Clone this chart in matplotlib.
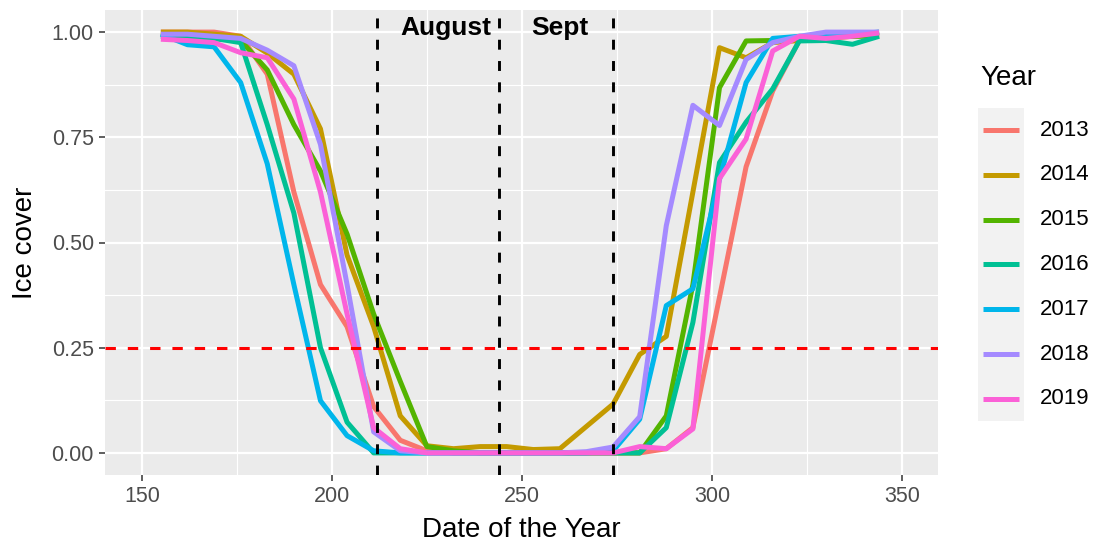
import numpy as np
import matplotlib.pyplot as plt
from matplotlib.lines import Line2D
from matplotlib.patches import Rectangle

plt.rcParams['font.family'] = ['Liberation Sans', 'DejaVu Sans']

# weekly sampling dates (day of year)
days = [155, 162, 169, 176, 183, 190, 197, 204, 211, 218, 225, 232, 239, 246,
        253, 260, 267, 274, 281, 288, 295, 302, 309, 316, 323, 330, 337, 344]

ice_2013 = [1.0, 1.0, 1.0, 0.99, 0.90, 0.62, 0.40, 0.30, 0.11, 0.03, 0.005, 0, 0, 0,
            0, 0, 0, 0, 0, 0.01, 0.06, 0.37, 0.68, 0.86, 0.98, 0.99, 0.99, 1.0]
ice_2014 = [1.0, 1.0, 0.995, 0.99, 0.95, 0.90, 0.77, 0.47, 0.30, 0.088, 0.017, 0.01, 0.015, 0.015,
            0.008, 0.01, 0.063, 0.116, 0.234, 0.277, 0.62, 0.963, 0.939, 0.975, 0.98, 0.985, 0.99, 0.995]
ice_2015 = [0.99, 0.99, 0.985, 0.98, 0.91, 0.78, 0.67, 0.52, 0.33, 0.17, 0.015, 0.005, 0, 0,
            0, 0, 0, 0, 0, 0.088, 0.40, 0.868, 0.979, 0.98, 0.985, 0.99, 0.99, 0.99]
ice_2016 = [0.99, 0.99, 0.985, 0.975, 0.78, 0.57, 0.25, 0.073, 0.0, 0, 0, 0, 0, 0,
            0, 0, 0, 0, 0, 0.06, 0.31, 0.69, 0.786, 0.865, 0.979, 0.98, 0.971, 0.99]
ice_2017 = [0.995, 0.97, 0.965, 0.88, 0.687, 0.40, 0.124, 0.041, 0.005, 0, 0, 0, 0, 0,
            0, 0, 0, 0.005, 0.08, 0.35, 0.39, 0.65, 0.88, 0.985, 0.99, 0.99, 0.995, 1.0]
ice_2018 = [0.995, 0.995, 0.99, 0.985, 0.957, 0.92, 0.733, 0.40, 0.05, 0.005, 0, 0, 0, 0,
            0, 0, 0.003, 0.014, 0.086, 0.54, 0.826, 0.778, 0.935, 0.975, 0.99, 1.0, 1.0, 1.0]
ice_2019 = [0.983, 0.98, 0.975, 0.951, 0.939, 0.841, 0.62, 0.33, 0.06, 0.01, 0, 0, 0, 0,
            0, 0, 0, 0, 0.015, 0.01, 0.057, 0.652, 0.746, 0.955, 0.99, 0.985, 0.99, 0.998]

years = ['2013', '2014', '2015', '2016', '2017', '2018', '2019']
series = [ice_2013, ice_2014, ice_2015, ice_2016, ice_2017, ice_2018, ice_2019]
colors = ['#F8766D', '#C49A00', '#53B400', '#00C094', '#00B6EB', '#A58AFF', '#FB61D7']

month_bounds = [212, 244, 274]
threshold = 0.25
month_labels = [(230, 'August'), (260, 'Sept')]

W, H = 1099, 546
fig = plt.figure(figsize=(W / 100, H / 100), dpi=100)
ax = fig.add_axes([105 / W, 1 - 475 / H, 833 / W, 465 / H])
ax.set_facecolor('#EBEBEB')
for s in ax.spines.values():
    s.set_visible(False)

ax.set_xlim(140.3, 359.5)
ax.set_ylim(-0.0525, 1.0525)
ax.set_xticks([150, 200, 250, 300, 350])
ax.set_xticks([175, 225, 275, 325], minor=True)
ax.set_yticks([0, 0.25, 0.5, 0.75, 1.0])
ax.set_yticklabels(['0.00', '0.25', '0.50', '0.75', '1.00'])
ax.set_yticks([0.125, 0.375, 0.625, 0.875], minor=True)
ax.grid(which='major', color='white', lw=1.6)
ax.grid(which='minor', color='white', lw=0.8)
ax.set_axisbelow(True)
ax.tick_params(which='major', length=4, width=1.1, color='#333333',
               labelsize=15.5, labelcolor='#4D4D4D', pad=4)
ax.tick_params(which='minor', length=0)

for vals, c in zip(series, colors):
    ax.plot(days, vals, color=c, lw=3.6, solid_capstyle='butt', solid_joinstyle='round')

dash = (0, (3.4, 3.9))
ax.axhline(threshold, color='#FF0000', lw=2.2, ls=dash)
for xb in month_bounds:
    ax.axvline(xb, color='black', lw=2.1, ls=dash)
for xm, txt in month_labels:
    ax.text(xm, 1.01, txt, fontsize=19, fontweight='bold', ha='center', va='center')

ax.set_xlabel('Date of the Year', fontsize=20, labelpad=7)
ax.set_ylabel('Ice cover', fontsize=20, labelpad=10)

# legend drawn in figure pixels
def fx(px):
    return px / W

def fy(py):
    return 1 - py / H

fig.text(fx(980), fy(78), 'Year', fontsize=20, ha='left', va='center')
step = 44.8
for i, (yr, c) in enumerate(zip(years, colors)):
    yc = 130 + i * step
    fig.add_artist(Rectangle((fx(978), fy(yc + step / 2)), 46 / W, step / H,
                             transform=fig.transFigure, facecolor='#F2F2F2', edgecolor='none'))
    fig.add_artist(Line2D([fx(983), fx(1019)], [fy(yc), fy(yc)], transform=fig.transFigure,
                          color=c, lw=3.6, solid_capstyle='butt'))
    fig.text(fx(1040), fy(yc), yr, fontsize=16, ha='left', va='center')

fig.savefig('out.png', dpi=100)
